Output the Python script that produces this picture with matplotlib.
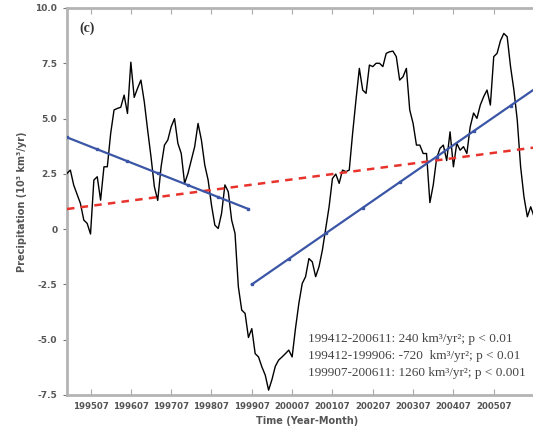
import numpy as np
import matplotlib.pyplot as plt

# monthly series from 199412 (month 0), 10^3 km^3/yr
precip = [2.52, 2.67, 1.99, 1.58, 1.16, 0.41, 0.26, -0.22, 2.22, 2.37,
          1.31, 2.82, 2.82, 4.33, 5.39, 5.46, 5.51, 6.06, 5.23, 7.55,
          5.96, 6.37, 6.74, 5.76, 4.48, 3.27, 1.92, 1.30, 2.82, 3.80,
          4.03, 4.63, 5.00, 3.88, 3.42, 2.07, 2.52, 3.12, 3.73, 4.78,
          4.03, 2.90, 2.22, 1.09, 0.18, 0.03, 0.71, 2.00, 1.69, 0.41,
          -0.19, -2.61, -3.66, -3.81, -4.90, -4.50, -5.63, -5.78, -6.23, -6.60,
          -7.28, -6.80, -6.20, -5.92, -5.78, -5.63, -5.47, -5.78, -4.49, -3.36,
          -2.46, -2.15, -1.33, -1.48, -2.15, -1.70, -0.95, 0.03, 1.01, 2.29,
          2.49, 2.07, 2.67, 2.60, 2.67, 4.33, 5.84, 7.27, 6.29, 6.14,
          7.42, 7.35, 7.50, 7.50, 7.35, 7.95, 8.02, 8.05, 7.80, 6.74,
          6.89, 7.27, 5.39, 4.78, 3.80, 3.80, 3.42, 3.42, 1.20, 2.00,
          3.20, 3.65, 3.80, 3.10, 4.40, 2.82, 3.88, 3.57, 3.73, 3.42,
          4.63, 5.25, 5.01, 5.61, 5.99, 6.29, 5.61, 7.80, 7.95, 8.52,
          8.85, 8.70, 7.35, 6.29, 4.93, 2.82, 1.46, 0.56, 1.01, 0.56]
months = np.arange(len(precip))

# trends: (start month, end month, value at start, slope in 10^3 km^3/yr^2)
trend_all = (0, 143, 0.91, 0.24)
trend_early = (0, 54, 4.15, -0.72)
trend_late = (55, 143, -2.50, 1.26)

trend_text = ["199412-200611: 240 km\u00b3/yr\u00b2; p < 0.01",
              "199412-199906: -720  km\u00b3/yr\u00b2; p < 0.01",
              "199907-200611: 1260 km\u00b3/yr\u00b2; p < 0.001"]

xtick_pos = [7 + 12 * i for i in range(12)]
xtick_lab = ["%d07" % (1995 + i) for i in range(11)] + [""]
ytick_pos = [-7.5, -5, -2.5, 0, 2.5, 5, 7.5, 10]
ytick_lab = ["-7.5", "-5.0", "-2.5", "0", "2.5", "5.0", "7.5", "10.0"]


def trend_line(t):
    m = np.arange(t[0], t[1] + 1)
    return m, t[2] + t[3] * (m - t[0]) / 12.0


fig = plt.figure(figsize=(5.33, 4.30), dpi=100)
ax = fig.add_axes([0.1257, 0.0814, 0.9015, 0.9])

ax.plot(months, precip, color="black", lw=1.0, zorder=3)

m, v = trend_line(trend_all)
ax.plot(m, v, color="#e8332c", lw=1.8, ls=(0, (3, 2.5)), zorder=4)
m, v = trend_line(trend_early)
ax.plot(m, v, color="#3b56a6", lw=1.6, marker="s", ms=2, markevery=9, zorder=5)
m, v = trend_line(trend_late)
ax.plot(m, v, color="#3b56a6", lw=1.6, marker="s", ms=2, markevery=11, zorder=5)

ax.set_xlim(0, 143)
ax.set_ylim(-7.5, 10)

ax.set_xticks(xtick_pos)
ax.set_xticklabels(xtick_lab, fontsize=6.2, color="#555555", fontweight="bold")
ax.set_yticks(ytick_pos)
ax.set_yticklabels(ytick_lab, fontsize=6.5, color="#555555", fontweight="bold")
ax.tick_params(axis="x", direction="in", top=True, length=4, color="#aaaaaa", pad=5)
ax.tick_params(axis="y", direction="out", length=3, color="#777777", pad=4)

for side in ["left", "bottom", "top"]:
    ax.spines[side].set_color("#b4b4b4")
    ax.spines[side].set_linewidth(2)
ax.spines["right"].set_visible(False)

ax.set_xlabel("Time (Year-Month)", fontsize=7, color="#555555", fontweight="bold", labelpad=4)
ax.set_ylabel("Precipitation (10\u00b3 km\u00b3/yr)", fontsize=7, color="#555555",
              fontweight="bold", labelpad=6)

ax.text(0.025, 0.965, "(c)", transform=ax.transAxes, fontsize=10, fontweight="bold",
        family="Liberation Serif", color="#333333", va="top")

for i, s in enumerate(trend_text):
    ax.text(0.502, 0.145 - i * 0.044, s, transform=ax.transAxes, fontsize=9.5,
            family="Liberation Serif", color="#444444", va="center")

fig.savefig("out.png", dpi=100)
